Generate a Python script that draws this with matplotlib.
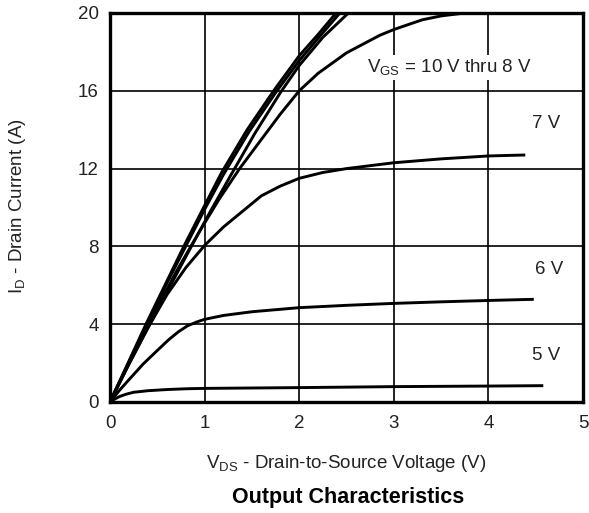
import numpy as np
import matplotlib
matplotlib.use("Agg")
import matplotlib.pyplot as plt

plt.rcParams["font.family"] = ["Liberation Sans", "DejaVu Sans"]
plt.rcParams["mathtext.fontset"] = "custom"
plt.rcParams["mathtext.rm"] = "Liberation Sans"

# output curves, I_D (A) vs V_DS (V)
vds_10v = [0, 0.2, 0.38, 0.6, 0.78, 1.0, 1.18, 1.45, 1.73, 2.0, 2.2, 2.39]
id_10v = [0, 2.1, 4.0, 6.2, 8.0, 10.1, 11.8, 14.0, 16.0, 17.8, 18.9, 20.0]

vds_9v = [0, 0.2, 0.39, 0.6, 0.8, 1.0, 1.2, 1.47, 1.75, 2.0, 2.2, 2.43]
id_9v = [0, 2.05, 4.0, 6.1, 8.0, 9.9, 11.7, 13.9, 15.9, 17.55, 18.7, 20.0]

vds_85v = [0, 0.2, 0.42, 0.64, 0.86, 1.05, 1.27, 1.53, 1.8, 2.0, 2.25, 2.52]
id_85v = [0, 1.95, 4.0, 6.0, 8.0, 9.7, 11.6, 13.8, 15.9, 17.3, 18.75, 20.0]

vds_8v = [0, 0.2, 0.45, 0.7, 0.95, 1.15, 1.37, 1.6, 1.8, 2.0, 2.2, 2.5, 2.85,
          3.0, 3.3, 3.5, 3.75]
id_8v = [0, 2.0, 4.4, 6.7, 8.8, 10.4, 12.0, 13.5, 14.8, 16.0, 16.9, 17.95, 18.85,
         19.15, 19.65, 19.85, 20.0]

vds_7v = [0, 0.2, 0.4, 0.6, 0.8, 1.0, 1.2, 1.4, 1.6, 1.8, 2.0, 2.25, 2.5, 3.0,
          3.5, 4.0, 4.39]
id_7v = [0, 1.95, 3.8, 5.5, 6.9, 8.05, 9.0, 9.8, 10.6, 11.1, 11.5, 11.8, 12.0,
         12.3, 12.5, 12.65, 12.7]

vds_6v = [0, 0.1, 0.21, 0.35, 0.5, 0.62, 0.72, 0.82, 0.92, 1.0, 1.2, 1.5, 2.0,
          2.5, 3.0, 3.5, 4.0, 4.48]
id_6v = [0, 0.6, 1.2, 1.95, 2.65, 3.2, 3.6, 3.92, 4.12, 4.25, 4.45, 4.64, 4.85,
         4.97, 5.07, 5.15, 5.22, 5.28]

vds_5v = [0, 0.05, 0.1, 0.17, 0.25, 0.4, 0.6, 0.8, 1.0, 2.0, 3.0, 4.0, 4.58]
id_5v = [0, 0.15, 0.28, 0.4, 0.5, 0.58, 0.64, 0.68, 0.7, 0.74, 0.79, 0.82, 0.84]

curve_labels = ["V$_{\\rm GS}$ = 10 V thru 8 V", "7 V", "6 V", "5 V"]
label_pos = [(2.72, 17.2), (4.61, 14.3), (4.64, 6.8), (4.61, 2.37)]

fig = plt.figure(figsize=(5.89, 5.13), dpi=100)
ax = fig.add_axes([110 / 589, 1 - 402 / 513, 473 / 589, 389 / 513])

for x, y in [(vds_10v, id_10v), (vds_9v, id_9v), (vds_85v, id_85v), (vds_8v, id_8v),
             (vds_7v, id_7v), (vds_6v, id_6v), (vds_5v, id_5v)]:
    ax.plot(x, y, color="black", lw=2.1, solid_capstyle="butt", zorder=3)

ax.set_xlim(0, 5)
ax.set_ylim(0, 20)
ax.set_xticks(np.arange(0, 6, 1))
ax.set_yticks(np.arange(0, 24, 4))
ax.grid(True, color="black", lw=1.2)
ax.tick_params(length=0, labelsize=13.5, colors="#222222")
ax.tick_params(axis="x", pad=9)
ax.tick_params(axis="y", pad=8)
for s in ax.spines.values():
    s.set_linewidth(2.4)

# labels sit on white boxes that hide the grid
ha = ["left", "center", "center", "center"]
for i, (txt, (x, y)) in enumerate(zip(curve_labels, label_pos)):
    ax.text(x, y, txt, ha=ha[i], va="center", fontsize=13.5, color="#222222", zorder=4,
            bbox=dict(facecolor="white", edgecolor="none", pad=1.5))

fig.text(18 / 589, 1 - 206 / 513, "I$_{\\rm D}$ - Drain Current (A)", rotation=90,
         ha="center", va="center", fontsize=13.5, color="#222222")
fig.text(346 / 589, 1 - 463 / 513, "V$_{\\rm DS}$ - Drain-to-Source Voltage (V)",
         ha="center", va="center", fontsize=13.5, color="#222222")
fig.text(348 / 589, 1 - 497 / 513, "Output Characteristics", ha="center", va="center",
         fontsize=15.5, fontweight="bold", color="black")

fig.savefig("out.png", dpi=100)
